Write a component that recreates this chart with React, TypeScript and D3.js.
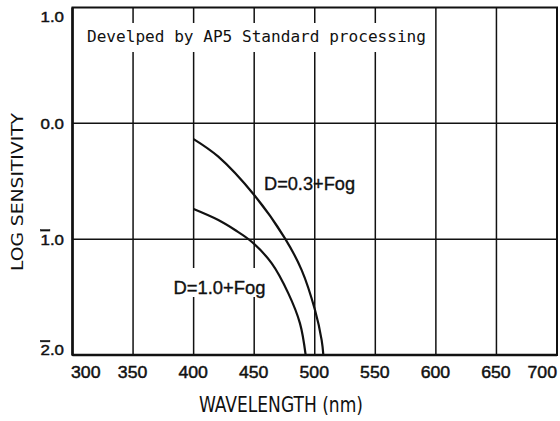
import React from "react";
import * as d3 from "d3";

// ---- data ----
const xTicks = [300, 350, 400, 450, 500, 550, 600, 650, 700];
const yTicks = [1, 0, -1, -2];
const yTickLabels = ["1.0", "0.0", "1.0", "2.0"];
const yTickOverbar = [false, false, true, true];

const d03Wave = [400, 420.4, 450, 475.4, 489.2, 500.2, 505.7, 507.1];
const d03Sens = [-0.136, -0.288, -0.619, -0.993, -1.267, -1.612, -1.871, -2.0];

const d10Wave = [400, 420.4, 434.2, 447.9, 464.5, 478.2, 487.8, 492.5];
const d10Sens = [-0.74, -0.835, -0.921, -1.022, -1.209, -1.468, -1.727, -2.0];

const headerText = "Develped by AP5 Standard processing";
const label03 = "D=0.3+Fog";
const label10 = "D=1.0+Fog";
const xTitle = "WAVELENGTH (nm)";
const yTitle = "LOG SENSITIVITY";

const W = 560;
const H = 421;
const L = 72.5;
const R = 557;
const T = 7.5;
const B = 355;

export default function App() {
  const x = d3.scaleLinear().domain([300, 700]).range([L, R]);
  const y = d3.scaleLinear().domain([-2, 1]).range([B, T]);

  const line = d3
    .line<[number, number]>()
    .x((d) => x(d[0]))
    .y((d) => y(d[1]))
    .curve(d3.curveCatmullRom.alpha(0.5));

  const pts03: [number, number][] = d03Wave.map((w, i) => [w, d03Sens[i]]);
  const pts10: [number, number][] = d10Wave.map((w, i) => [w, d10Sens[i]]);

  const tickFont = "'Liberation Sans', Arial, sans-serif";
  const narrowFont = "'Liberation Sans Narrow', 'DejaVu Sans Condensed', sans-serif";
  const ink = "#111";

  return (
    <svg
      width={W}
      height={H}
      style={{ position: "absolute", left: 0, top: 0, background: "#fff" }}
    >
      <rect x={0} y={0} width={W} height={H} fill="#fff" />
      {/* vertical grid */}
      {xTicks.slice(1, -1).map((t) => (
        <line
          key={"vx" + t}
          x1={x(t)}
          x2={x(t)}
          y1={T}
          y2={B}
          stroke={ink}
          strokeWidth={1.5}
        />
      ))}
      {/* horizontal grid */}
      {yTicks.slice(1, -1).map((t) => (
        <line
          key={"hy" + t}
          x1={L}
          x2={R}
          y1={y(t)}
          y2={y(t)}
          stroke={ink}
          strokeWidth={1.5}
        />
      ))}
      {/* header background + text */}
      <rect x={80} y={23} width={352} height={29} fill="#fff" />
      <text
        x={87}
        y={41.5}
        fontFamily="'DejaVu Sans Mono', monospace"
        fontSize={16}
        textLength={339}
        lengthAdjust="spacingAndGlyphs"
        fill={ink}
      >
        {headerText}
      </text>
      {/* D=1.0 label background */}
      <rect x={171} y={268} width={97} height={29} fill="#fff" />
      {/* curves */}
      <path d={line(pts03) || ""} fill="none" stroke={ink} strokeWidth={2.2} />
      <path d={line(pts10) || ""} fill="none" stroke={ink} strokeWidth={2.2} />
      <text
        x={264}
        y={189.5}
        fontFamily={tickFont}
        fontSize={18}
        textLength={91}
        lengthAdjust="spacingAndGlyphs"
        fill={ink}
        stroke={ink}
        strokeWidth={0.35}
      >
        {label03}
      </text>
      <text
        x={173.5}
        y={293.5}
        fontFamily={tickFont}
        fontSize={18}
        textLength={92}
        lengthAdjust="spacingAndGlyphs"
        fill={ink}
        stroke={ink}
        strokeWidth={0.35}
      >
        {label10}
      </text>
      {/* frame */}
      <rect x={L} y={T} width={R - L} height={B - T} fill="none" stroke={ink} strokeWidth={2} />
      <line x1={L} x2={L} y1={T} y2={B} stroke={ink} strokeWidth={2.5} />
      <line x1={L} x2={R} y1={B} y2={B} stroke={ink} strokeWidth={2.5} />
      {/* y tick labels */}
      {yTicks.map((t, i) => {
        const yy = Math.min(Math.max(y(t), T + 9), B - 5);
        const lab = yTickLabels[i];
        return (
          <text
            key={"yl" + t}
            x={L - 8.5}
            y={yy}
            dy="0.36em"
            textAnchor="end"
            fontFamily={tickFont}
            fontSize={15}
            textLength={23.5}
            lengthAdjust="spacingAndGlyphs"
            fill={ink}
            stroke={ink}
            strokeWidth={0.45}
          >
            {yTickOverbar[i] ? (
              <>
                <tspan style={{ textDecoration: "overline" }}>{lab.slice(0, 1)}</tspan>
                <tspan>{lab.slice(1)}</tspan>
              </>
            ) : (
              lab
            )}
          </text>
        );
      })}
      {/* x tick labels */}
      {xTicks.map((t, i) => {
        const anchor = i === 0 ? "start" : i === xTicks.length - 1 ? "end" : "middle";
        const xx = i === 0 ? x(t) - 1.5 : i === xTicks.length - 1 ? x(t) : x(t) - 0.5;
        return (
          <text
            key={"xl" + t}
            x={xx}
            y={377.5}
            textAnchor={anchor}
            fontFamily={tickFont}
            fontSize={16}
            textLength={29.5}
            lengthAdjust="spacingAndGlyphs"
            fill={ink}
            stroke={ink}
            strokeWidth={0.45}
          >
            {t}
          </text>
        );
      })}
      {/* axis titles */}
      <text
        x={199}
        y={411.5}
        fontFamily={narrowFont}
        fontSize={21}
        textLength={164}
        lengthAdjust="spacingAndGlyphs"
        fill={ink}
      >
        {xTitle}
      </text>
      <text
        transform={`translate(22.5,${192}) rotate(-90)`}
        textAnchor="middle"
        fontFamily={narrowFont}
        fontSize={15.5}
        textLength={158}
        lengthAdjust="spacingAndGlyphs"
        fill={ink}
      >
        {yTitle}
      </text>
    </svg>
  );
}
